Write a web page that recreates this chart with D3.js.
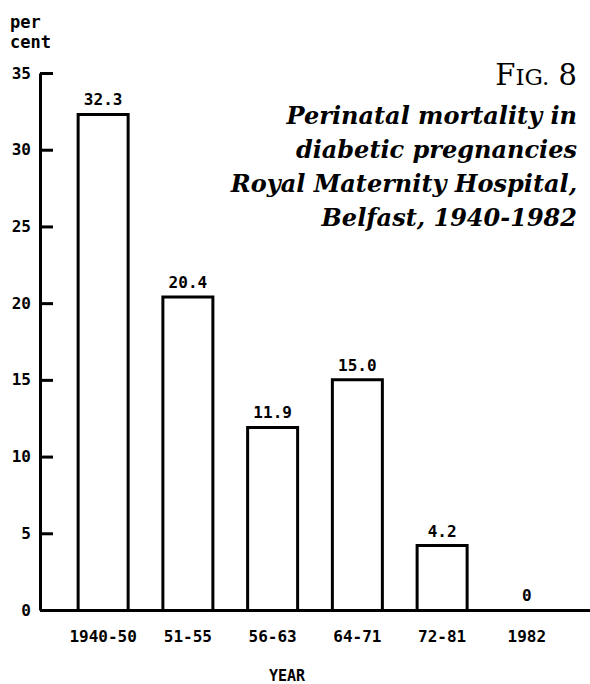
<!DOCTYPE html>
<meta charset="utf-8">
<body style="margin:0;background:#fff">
<svg width="590" height="684"></svg>
</body>
<script src="https://cdn.jsdelivr.net/npm/d3@7/dist/d3.min.js"></script>
<script>

var periods = ["1940-50", "51-55", "56-63", "64-71", "72-81", "1982"];
var mortality = [32.3, 20.4, 11.9, 15.0, 4.2, 0];
var valueLabels = ["32.3", "20.4", "11.9", "15.0", "4.2", "0"];
var yTicks = [0, 5, 10, 15, 20, 25, 30, 35];
var titleLines = ["Perinatal mortality in", "diabetic pregnancies",
                  "Royal Maternity Hospital,", "Belfast, 1940-1982"];

var svg = d3.select("svg");
var mono = "'DejaVu Sans Mono', monospace";
var serif = "'DejaVu Serif', serif";

var y = d3.scaleLinear().domain([0, 35]).range([610, 73]);
var x = d3.scaleBand().domain(periods).range([40, 590])
    .paddingInner(0.41).paddingOuter(0.45);

// y axis, ticks point inward
var yAxis = svg.append("g")
    .attr("transform", "translate(40,0)")
    .call(d3.axisLeft(y).tickValues(yTicks).tickSize(-13).tickSizeOuter(0).tickPadding(9));
yAxis.select(".domain").attr("stroke-width", 3);
yAxis.selectAll(".tick line").attr("stroke-width", 3);
yAxis.selectAll("text").attr("font-family", mono).attr("font-weight", "bold")
    .attr("font-size", 16).attr("fill", "#000");

// x axis baseline + labels
var xAxis = svg.append("g")
    .attr("transform", "translate(0,610)")
    .call(d3.axisBottom(x).tickSize(0).tickPadding(21));
xAxis.select(".domain").attr("stroke-width", 3);
xAxis.selectAll("text").attr("font-family", mono).attr("font-weight", "bold")
    .attr("font-size", 16).attr("fill", "#000");

// bars (open rectangles)
var bars = periods.map(function(p, i) { return {p: p, v: mortality[i], label: valueLabels[i]}; });

svg.selectAll("path.bar")
    .data(bars.filter(d => d.v > 0))
    .join("path")
    .attr("class", "bar")
    .attr("fill", "none")
    .attr("stroke", "#000")
    .attr("stroke-width", 3)
    .attr("d", d => "M" + x(d.p) + "," + y(0) + "V" + y(d.v) + "H" + (x(d.p) + x.bandwidth()) + "V" + y(0));

svg.selectAll("text.val")
    .data(bars)
    .join("text")
    .attr("class", "val")
    .attr("x", d => x(d.p) + x.bandwidth() / 2)
    .attr("y", d => y(d.v) - 9)
    .attr("text-anchor", "middle")
    .attr("font-family", mono).attr("font-weight", "bold").attr("font-size", 16)
    .text(d => d.label);

// axis captions
svg.append("text").attr("x", 10).attr("y", 28)
    .attr("font-family", mono).attr("font-weight", "bold").attr("font-size", 17).text("per");
svg.append("text").attr("x", 10).attr("y", 48)
    .attr("font-family", mono).attr("font-weight", "bold").attr("font-size", 17).text("cent");
svg.append("text").attr("x", 287).attr("y", 681).attr("text-anchor", "middle")
    .attr("font-family", mono).attr("font-weight", "bold").attr("font-size", 15).text("YEAR");

// title block
var fig = svg.append("text").attr("x", 577).attr("y", 85).attr("text-anchor", "end")
    .attr("font-family", serif).attr("font-size", 29);
fig.append("tspan").text("F");
fig.append("tspan").attr("font-size", 23).text("IG.");
fig.append("tspan").text(" 8");

svg.selectAll("text.title")
    .data(titleLines)
    .join("text")
    .attr("class", "title")
    .attr("x", 577)
    .attr("y", (d, i) => 124 + i * 34)
    .attr("text-anchor", "end")
    .attr("font-family", serif).attr("font-style", "italic").attr("font-weight", "bold")
    .attr("font-size", 24)
    .text(d => d);

</script>
